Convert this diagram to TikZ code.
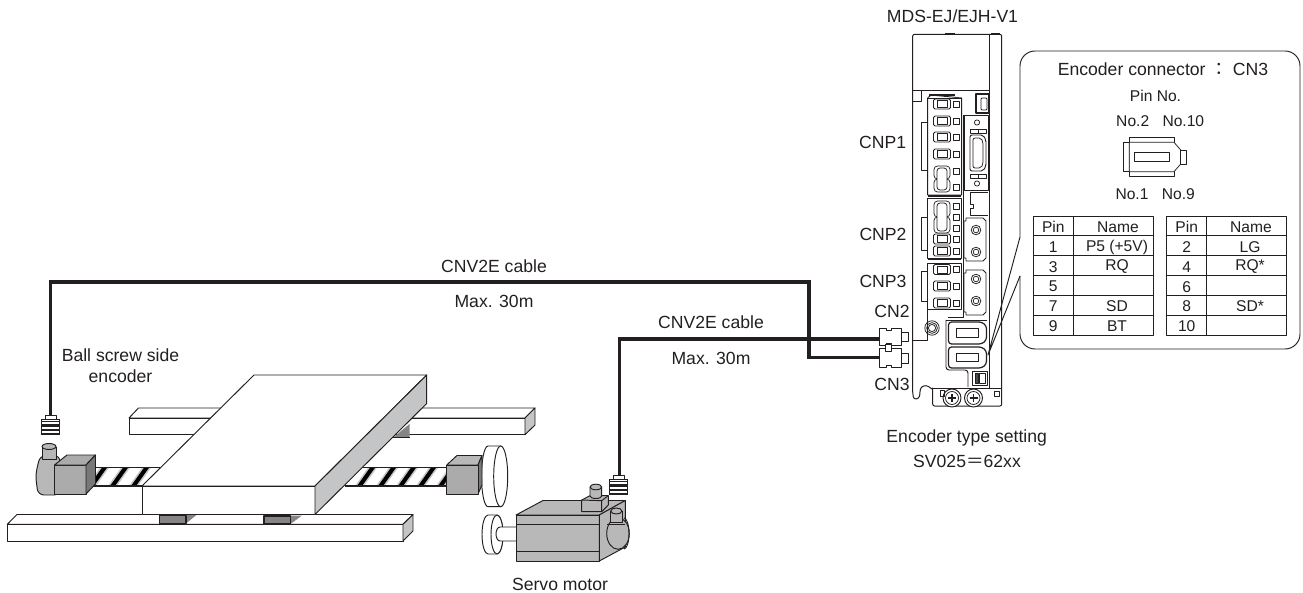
\documentclass[tikz,border=0pt]{standalone}
\usepackage{fontspec}
\setmainfont{Liberation Sans}
\newfontfamily\cjkf{Noto Sans CJK JP}
\definecolor{ink}{HTML}{231F20}
\definecolor{sidegray}{HTML}{C4C5C6}
\definecolor{boxgray}{HTML}{ABABAB}
\definecolor{motorgray}{HTML}{B8B8B8}
\definecolor{blockgray}{HTML}{858585}
\tikzset{
  base/.style={line width=0.95pt,draw=ink,line join=round},
  thin line/.style={line width=0.75pt,draw=ink,line join=round},
  cablew/.style={line width=3.1pt,draw=ink,line join=miter},
  lab/.style={font=\fontsize{17.6}{20}\selectfont,text=ink,inner sep=0pt,anchor=center},
  tlab/.style={font=\fontsize{15.6}{18}\selectfont,text=ink,inner sep=0pt,anchor=center},
}
\newcommand\termrow[1]{%
  \draw[thin line,rounded corners=1.5pt] (933.5,#1-5) rectangle (950.5,#1+5);
  \draw[thin line] (937,#1-3.6) rectangle (947,#1+3.6);
  \draw[thin line] (953,#1-3) rectangle (959.5,#1+3);
}
\newcommand\plug[2]{%
  \draw[thin line,fill=white] (#1-5.5,#2-4) rectangle (#1+5.5,#2);
  \fill[ink] (#1-9.5,#2) rectangle (#1+9.5,#2+15.5);
  \foreach \yy in {3.2,8.4,12.4}{\fill[white] (#1-8.6,#2+\yy) rectangle (#1+8.6,#2+\yy+1.4);}
  \fill[white] (#1-8.6,#2+0.8) rectangle (#1+8.6,#2+1.8);
}
\newcommand\ovalcell[2]{%
  \draw[thin line,rounded corners=3.5pt] (934,#1) rectangle (950,#1/2+#2/2);
  \draw[thin line,rounded corners=3.5pt] (934,#1/2+#2/2) rectangle (950,#2);
  \draw[thin line,fill=white,rounded corners=3pt] (937,#1+2) rectangle (947,#2-2);
}
\begin{document}
\begin{tikzpicture}[x=1pt,y=-1pt]
\useasboundingbox (0,0) rectangle (1303,593);
% ---------- mechanics: back rail
\draw[base,fill=white] (129,418) -- (138.5,408) -- (535,408) -- (525,418) -- cycle;
\draw[base,fill=white] (129,418) rectangle (525,434.7);
\draw[base,fill=sidegray] (525,418) -- (535,408) -- (535,425) -- (525,434.7) -- cycle;
% block under table (back)
\fill[blockgray] (393,437.7) -- (409.5,424) -- (409.5,437.7) -- cycle;
\draw[base] (393,437.7) -- (409.5,437.7);
% ---------- front rail
\draw[base,fill=white] (7.3,524.3) -- (17,514.5) -- (413,514.5) -- (403,524.3) -- cycle;
\draw[base,fill=white] (7.3,524.3) rectangle (403,541);
\draw[base,fill=sidegray] (403,524.3) -- (413,514.5) -- (413,531) -- (403,541) -- cycle;
\fill[blockgray] (186,523.5) -- (197,514.5) -- (186,514.5) -- cycle;
\draw[base,fill=blockgray,line width=1.3pt] (159.5,515.5) rectangle (186,523.5);
\fill[blockgray] (290.5,524) -- (302,515.5) -- (290.5,515.5) -- cycle;
\draw[base,fill=blockgray,line width=1.3pt] (264,516) rectangle (290.5,524);
% ---------- ball screw
\begin{scope}
\clip (89,467.7) rectangle (160,486);
\foreach \xx in {104,125,146}{
  \fill[black!22] (\xx-4,467.7) -- (\xx+5,467.7) -- (\xx-8,486) -- (\xx-17,486) -- cycle;
  \fill[black] (\xx-2,467.7) -- (\xx+3,467.7) -- (\xx-10,486) -- (\xx-15,486) -- cycle;
}
\end{scope}
\draw[base,line width=1.2pt] (89,467.7) -- (160,467.7) (89,486) -- (143,486);
\begin{scope}
\clip (345,467.7) rectangle (447,486);
\foreach \xx in {372,393,413,433,453}{
  \fill[black!22] (\xx-4,467.7) -- (\xx+5,467.7) -- (\xx-8,486) -- (\xx-17,486) -- cycle;
  \fill[black] (\xx-2,467.7) -- (\xx+3,467.7) -- (\xx-10,486) -- (\xx-15,486) -- cycle;
}
\end{scope}
\draw[base,line width=1.2pt] (360,467.7) -- (447,467.7) (345,486) -- (447,486);
% ---------- left motor
\draw[base,fill=motorgray,rounded corners=6pt] (60,455.5) -- (40,455.5) -- (35.5,475) -- (38,495) -- (60,495) -- cycle;
\draw[base,fill=motorgray] (42,447) -- (42,459) -- (56,459) -- (56,447);
\draw[base,fill=motorgray] (49,446.5) ellipse [x radius=7pt,y radius=3pt];
\draw[base,fill=boxgray] (54.5,465) rectangle (86,494);
\draw[base,fill=boxgray] (54.5,465) -- (67,455) -- (95.5,455) -- (86,465) -- cycle;
\draw[base,fill=boxgray!70!black] (86,465) -- (95.5,455) -- (95.5,484) -- (86,494) -- cycle;
% ---------- table
\draw[base,fill=white] (254,375) -- (426.7,375) -- (315,486) -- (142,486) -- cycle;
\draw[base,fill=white] (142,486) rectangle (315,514.5);
\draw[base,fill=sidegray] (315,486) -- (426.7,375) -- (426.7,403.5) -- (315,514.5) -- cycle;
% ---------- right gearbox and wheel
\draw[base,fill=white] (488,446) -- (500.7,446) -- (500.7,506.7) -- (488,506.7) arc[start angle=270,end angle=90,x radius=6.5pt,y radius=30.35pt] -- cycle;
\draw[base,fill=white] (500.7,476.35) ellipse [x radius=7pt,y radius=30.35pt];
\draw[base,fill=boxgray!85!white] (446.7,465) -- (457,455.5) -- (482,455.5) -- (478,465) -- cycle;
\draw[base,fill=boxgray!70!black] (478,465) -- (482,455.5) -- (482,485) -- (478,494) -- cycle;
\draw[base,fill=boxgray] (446.7,465) rectangle (478,494);
% ---------- servo motor
\draw[base,fill=white] (488,515) -- (497,515) arc[start angle=90,end angle=-90,x radius=6pt,y radius=19.5pt] -- (488,554) arc[start angle=270,end angle=90,x radius=6pt,y radius=19.5pt] -- cycle;
\draw[base,fill=white] (497,534.5) ellipse [x radius=6pt,y radius=19.5pt];
\draw[base,fill=white] (516,527) -- (500,527) arc[start angle=90,end angle=270,x radius=4pt,y radius=7pt] -- (516,541);
\draw[base,fill=motorgray] (516,515) -- (543,500.5) -- (625.3,500.5) -- (599.3,515) -- cycle;
\draw[base,fill=motorgray] (516,515) rectangle (599.3,561);
\draw[base,fill=motorgray] (599.3,515) -- (625.3,500.5) -- (625.3,547) -- (599.3,561) -- cycle;
\draw[base] (516,524) -- (599.3,524);
\draw[base,line width=1.3pt] (516,551.7) -- (599.3,551.7);
\draw[base,fill=motorgray] (581.7,500) -- (590,495.7) -- (608.3,495.7) -- (608.3,505) -- (601.7,511.7) -- (581.7,511.7) -- cycle;
\draw[base] (581.7,500) -- (601.7,500.7) -- (608.3,495.7) (601.7,500.7) -- (601.7,511.7);
\draw[base,fill=motorgray] (590,487) -- (590,496) arc[start angle=180,end angle=360,x radius=5.85pt,y radius=2.5pt] -- (601.7,487);
\draw[base,fill=motorgray] (595.85,487) ellipse [x radius=5.85pt,y radius=2.8pt];
\draw[base,fill=motorgray] (618,533.5) ellipse [x radius=11.3pt,y radius=15.8pt];
\draw[base] (624,518) arc[start angle=90,end angle=-90,x radius=5pt,y radius=15.5pt];
\draw[base,fill=motorgray] (610.7,511) -- (610.7,522) -- (622,522) -- (622,511);
\draw[base,fill=motorgray] (616.3,511) ellipse [x radius=5.6pt,y radius=3pt];
\draw[base] (607,524) -- (625,524);
% ---------- encoder plugs
\plug{50.5}{419}
\plug{618.4}{479}
% ---------- cables
\coordinate (encA) at (50.5,415);
\coordinate (encB) at (619.3,475);
\coordinate (cnvAa) at (50.5,282);
\coordinate (cnvAb) at (809,282);
\coordinate (cnvAc) at (809,357.6);
\coordinate (cnvBa) at (619.3,339);
\node[draw=none,inner sep=0pt,minimum size=0pt] (cnB) at (879.3,339) {};
\node[draw=none,inner sep=0pt,minimum size=0pt] (cnA) at (879.3,357.6) {};
\draw[cablew] (encA) -- (cnvAa) -- (cnvAb) -- (cnvAc) -- (cnA);
\draw[cablew] (encB) -- (cnvBa) -- (cnB);
% ---------- cable-side connectors
\foreach \yy/\hh in {328/345,348.5/367}{
  \draw[base,fill=white] (879.3,\yy) -- (886,\yy) -- (886,\yy+2) -- (891,\yy+2) -- (891,\yy) -- (901.7,\yy) -- (901.7,\hh) -- (891,\hh) -- (891,\hh-2) -- (886,\hh-2) -- (886,\hh) -- (879.3,\hh) -- cycle;
  \draw[base,fill=white] (901.7,\yy+4.5) rectangle (908,\hh-4);
}
\draw[base,fill=white] (885,344) rectangle (891.5,351);
% ---------- servo drive
\draw[base,fill=white,line width=1pt] (912.7,388) -- (912.7,36) to[out=90,in=180] (915,34.3) -- (999.5,34.3) to[out=0,in=90] (1001.7,36) -- (1001.7,388) -- (1001.7,404) to[out=-90,in=0] (1000,406) -- (934.5,406) to[out=180,in=-90] (932.7,404) -- (932.7,388)
  to[out=-90,in=0,looseness=1.2] (926,385.7) to[out=180,in=90,looseness=1.2] (920,392) to[out=-90,in=0] (916,399) to[out=180,in=-90] (912.7,392) -- cycle;
\draw[thin line,line width=1.4pt] (945,33.6) -- (955,33.6) (991,33.6) -- (1000,33.6);
\draw[base] (989,34.3) -- (989,388);
\draw[thin line] (932.7,388) -- (1001.7,388);
\draw[thin line] (912.7,90) -- (989,90);
\draw[thin line] (912.7,101) -- (921.7,101) -- (921.7,90);
\draw[thin line] (912.7,340) -- (927.7,340) -- (927.7,309);
\draw[thin line,line width=1.4pt] (941,90.7) -- (951,90.7);
% terminal blocks
\draw[base,fill=white] (927.7,98) -- (931,95) -- (961.7,98) -- (961.7,195) -- (927.7,195) -- cycle;
\draw[base,fill=white] (927.7,98) -- (961.7,98);
\draw[base,line width=1.8pt] (929,95.3) -- (955,95.3);
\draw[thin line] (927.7,122) -- (921.7,122) -- (921.7,170) -- (927.7,170);
\foreach \yy in {104,121,137,154}{\termrow{\yy}}
\ovalcell{166}{192}
\draw[thin line] (953,168) rectangle (959.5,174);
\draw[thin line] (953,184) rectangle (959.5,190);
\draw[base,fill=white] (927.7,198) rectangle (961.7,258);
\draw[base,line width=1.8pt] (928,196) -- (961,196);
\draw[thin line] (927.7,217) -- (921.7,217) -- (921.7,250) -- (927.7,250);
\ovalcell{201}{233}
\foreach \yy in {206,217,228}{\draw[thin line] (953,\yy-3) rectangle (959.5,\yy+3);}
\termrow{239}
\termrow{251}
\draw[base,line width=1.8pt] (928,259) -- (961,259);
\draw[base,fill=white] (927.7,263) rectangle (961.7,309);
\draw[thin line] (927.7,271) -- (921.7,271) -- (921.7,301) -- (927.7,301);
\termrow{269.5}
\termrow{286}
\termrow{303}
% panel outline
\draw[base] (963.5,115) -- (963.5,317) -- (948,317);
\draw[thin line] (976,115) -- (963.5,115);
% USB
\draw[base,line width=1.2pt] (976,94) rectangle (989,113);
\draw[base,rounded corners=1pt] (981,98) rectangle (987,110);
% D-sub
\draw[thin line] (964,115) rectangle (988.5,190.5);
\draw[thin line] (977,122.5) circle[radius=2.6pt] (977,183.5) circle[radius=2.6pt];
\draw[thin line] (970,129) rectangle (986,133) (970,174) rectangle (986,178);
\draw[thin line] (978,129) -- (978,133) (978,174) -- (978,178);
\draw[base,rounded corners=2pt] (970,135) -- (983,135) -- (986,140) -- (986,166) -- (983,171) -- (970,171) -- cycle;
\draw[thin line,rounded corners=2pt] (973,138) -- (981,138) -- (983,142) -- (983,164) -- (981,168) -- (973,168) -- cycle;
% next panel
\draw[thin line] (970,192) -- (988,192) (970,192) -- (970,204) -- (973,204) -- (973,208) -- (970,208) -- (970,215) -- (988,215);
% dual panels
\foreach \ya/\yb/\ca/\cb in {218/261/230/252, 270/315/279/301}{
  \draw[thin line] (966,\ya) -- (983,\ya) -- (986,\ya+3) -- (986,\yb-3) -- (983,\yb) -- (966,\yb) -- (966,\yb-3) -- (964,\yb-3) -- (964,\ya+3) -- (966,\ya+3) -- cycle;
  \draw[thin line] (976,\ca) circle[radius=4.8pt] (976,\cb) circle[radius=4.8pt];
  \draw[thin line] (976,\ca) circle[radius=2.8pt] (976,\cb) circle[radius=2.8pt];
}
% round terminal
\draw[thin line] (932,328) circle[radius=7.2pt] (932,328) circle[radius=5.4pt] (932,328) circle[radius=3.6pt];
% CN2 / CN3 on drive
\draw[base,rounded corners=3pt] (946,320) -- (946,370) -- (968,370) -- (968,387);
\draw[thin line] (946,320) -- (987,320);
\foreach \ya/\yb in {322/344,347/368}{
  \draw[base,line width=1.2pt,rounded corners=3pt] (948.5,\ya) -- (982,\ya) -- (986.5,\ya+4) -- (986.5,\yb-4) -- (982,\yb) -- (948.5,\yb) -- cycle;
  \draw[thin line] (956.5,\ya+6) rectangle (978,\yb-6.5);
}
\draw[base] (972,371) rectangle (987,385);
\draw[thin line,fill=ink!80] (975,373) rectangle (978,383);
\draw[thin line] (979.5,373) rectangle (985,383);
% screws
\foreach \xx in {952,973.5}{
  \draw[base,fill=white] (\xx,398) circle[radius=9pt];
  \draw[thin line] (\xx,398) circle[radius=6.5pt];
  \draw[base,line width=1.3pt] (\xx-4,398) -- (\xx+4,398) (\xx,394) -- (\xx,402);
}
\draw[thin line] (940,390) rectangle (944,396);
\draw[thin line] (994,391) rectangle (999,396);
% ---------- callout
\coordinate (tip) at (988,355);
\coordinate (calloutA) at (1020,237);
\coordinate (calloutB) at (1020,276);
\draw[base,fill=white] (calloutA) -- (1020,66) arc[start angle=180,end angle=90,radius=15pt] -- (1285,51) arc[start angle=90,end angle=0,radius=15pt] -- (1300,334) arc[start angle=0,end angle=-90,radius=15pt] -- (1035,349) arc[start angle=-90,end angle=-180,radius=15pt] -- (calloutB);
\draw[base] (calloutA) -- (tip) -- (calloutB);
% connector icon
\draw[thin line,fill=white] (1129.3,137.3) rectangle (1174,176.7);
\draw[thin line,fill=white] (1123,142.3) rectangle (1129.3,171.7);
\draw[thin line,fill=white] (1129.3,142.3) -- (1174,142.3) -- (1180.7,150) -- (1180.7,164) -- (1174,171.7) -- (1129.3,171.7) -- cycle;
\draw[thin line,fill=white] (1180.7,150) rectangle (1186.7,164);
\draw[base] (1134.3,152.3) rectangle (1169.3,161);
% tables
\foreach \xa/\xb/\xc in {1033.3/1073.3/1153.3,1166.7/1206.7/1286}{
  \draw[thin line,line width=0.85pt] (\xa,216) rectangle (\xc,335);
  \draw[thin line,line width=0.85pt] (\xb,216) -- (\xb,335);
  \foreach \r in {1,...,5}{\draw[thin line,line width=0.85pt] (\xa,216+\r*19.83) -- (\xc,216+\r*19.83);}
}
% ---------- texts
\node[lab] (tModel) at (952.5,16) {MDS-EJ/EJH-V1};
\node[lab] (tCNP1) at (882.7,142) {CNP1};
\node[lab] (tCNP2) at (883,234.5) {CNP2};
\node[lab] (tCNP3) at (883,281.5) {CNP3};
\node[lab] (tCN2) at (892,311.5) {CN2};
\node[lab] (tCN3) at (892,384.5) {CN3};
\node[lab] (tCable1) at (494,266) {CNV2E cable};
\node[lab] (tMax1) at (494,301.5) {Max. 30m};
\node[lab] (tCable2) at (711,322) {CNV2E cable};
\node[lab] (tMax2) at (711,358.5) {Max. 30m};
\node[lab] (tBall1) at (120.5,355) {Ball screw side};
\node[lab] (tBall2) at (120.5,376.7) {encoder};
\node[lab] (tServo) at (560,584) {Servo motor};
\node[lab] (tType) at (966.7,438) {Encoder type setting};
\node[lab] (tSV) at (967,461) {SV025{\cjkf＝}62xx};
\node[lab] (tTitle) at (1163,69) {Encoder connector {\cjkf：} CN3};
\node[tlab] (tPinNo) at (1155.5,96) {Pin No.};
\node[tlab] (tNo2) at (1132.7,121) {No.2};
\node[tlab] (tNo10) at (1183.3,121) {No.10};
\node[tlab] (tNo1) at (1132,194) {No.1};
\node[tlab] (tNo9) at (1178.3,194) {No.9};
\foreach \nm/\xp/\xn/\r/\p/\n in {
  a0/1053.3/1118/0/Pin/Name, a1/1053.3/1117/1/1/P5 (+5V), a2/1053.3/1117/2/3/RQ, a3/1053.3/1117/3/5/{}, a4/1053.3/1117/4/7/SD, a5/1053.3/1117/5/9/BT,
  b0/1186.7/1251/0/Pin/Name, b1/1186.7/1250/1/2/LG, b2/1186.7/1250/2/4/RQ*, b3/1186.7/1250/3/6/{}, b4/1186.7/1250/4/8/SD*, b5/1186.7/1250/5/10/{}}{
  \node[tlab] (p\nm) at (\xp,227.2+\r*19.83) {\p};
  \node[tlab] (n\nm) at (\xn,227.2+\r*19.83) {\n};
}
\end{tikzpicture}
\end{document}
